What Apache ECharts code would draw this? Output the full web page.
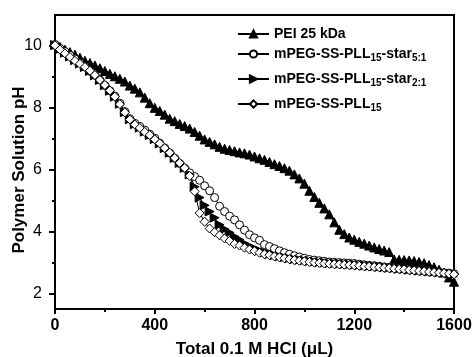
<!DOCTYPE html>
<html style="height: 100%">
<head>
    <meta charset="utf-8">
    <script src="https://cdn.jsdelivr.net/npm/echarts@6/dist/echarts.min.js"></script>
</head>
<body style="height: 100%; margin: 0">
    <div id="main" style="width:474px;height:357px;"></div>
    <script type="text/javascript">
    // volume of 0.1 M HCl added (uL)
    var volume = [0, 20, 40, 60, 80, 100, 120, 140, 160, 180, 200, 220, 240, 260, 280, 300, 320, 340, 360, 380,
        400, 420, 440, 460, 480, 500, 520, 540, 560, 580, 600, 620, 640, 660, 680, 700, 720, 740, 760, 780,
        800, 820, 840, 860, 880, 900, 920, 940, 960, 980, 1000, 1020, 1040, 1060, 1080, 1100, 1120, 1140, 1160, 1180,
        1200, 1220, 1240, 1260, 1280, 1300, 1320, 1340, 1360, 1380, 1400, 1420, 1440, 1460, 1480, 1500, 1520, 1540, 1560, 1580,
        1600];

    var pei = [10.05, 9.97, 9.88, 9.80, 9.72, 9.62, 9.52, 9.45, 9.37, 9.28, 9.19, 9.10, 9.02, 8.94, 8.85, 8.72, 8.62, 8.50, 8.33, 8.15,
        8.00, 7.90, 7.78, 7.65, 7.57, 7.48, 7.41, 7.33, 7.22, 7.10, 6.98, 6.90, 6.82, 6.74, 6.68, 6.64, 6.60, 6.56, 6.53, 6.49,
        6.43, 6.37, 6.32, 6.25, 6.18, 6.12, 6.05, 5.97, 5.85, 5.72, 5.55, 5.32, 5.12, 4.93, 4.75, 4.56, 4.30, 4.06, 3.92, 3.81,
        3.74, 3.67, 3.61, 3.55, 3.49, 3.44, 3.39, 3.34, 3.10, 3.09, 3.08, 3.07, 3.05, 3.02, 2.98, 2.92, 2.85, 2.77, 2.68, 2.52,
        2.38];

    var star51 = [10.05, 9.92, 9.82, 9.70, 9.58, 9.45, 9.32, 9.18, 9.05, 8.90, 8.72, 8.55, 8.38, 8.15, 7.88, 7.65, 7.50, 7.40, 7.28, 7.15,
        7.02, 6.86, 6.70, 6.54, 6.37, 6.20, 6.05, 5.90, 5.78, 5.66, 5.48, 5.32, 5.10, 4.82, 4.65, 4.50, 4.38, 4.22, 4.05, 3.90,
        3.80, 3.72, 3.58, 3.52, 3.45, 3.38, 3.32, 3.27, 3.22, 3.18, 3.14, 3.10, 3.08, 3.06, 3.04, 3.02, 3.01, 3.00, 2.99, 2.98,
        2.97, 2.95, 2.93, 2.91, 2.90, 2.88, 2.86, 2.85, 2.83, 2.81, 2.80, 2.78, 2.76, 2.75, 2.73, 2.72, 2.70, 2.69, 2.67, 2.66,
        2.64];

    var star21 = [10.03, 9.90, 9.78, 9.66, 9.54, 9.43, 9.32, 9.19, 9.05, 8.90, 8.73, 8.55, 8.36, 8.13, 7.86, 7.63, 7.47, 7.36, 7.23, 7.12,
        6.99, 6.85, 6.70, 6.55, 6.38, 6.22, 6.06, 5.85, 5.45, 5.10, 4.85, 4.65, 4.45, 4.22, 4.08, 3.97, 3.84, 3.74, 3.62, 3.53,
        3.46, 3.39, 3.33, 3.28, 3.24, 3.20, 3.17, 3.14, 3.11, 3.09, 3.07, 3.05, 3.03, 3.01, 3.00, 2.98, 2.97, 2.96, 2.95, 2.94,
        2.93, 2.92, 2.90, 2.89, 2.88, 2.86, 2.85, 2.83, 2.82, 2.80, 2.79, 2.77, 2.76, 2.74, 2.73, 2.71, 2.70, 2.68, 2.67, 2.65,
        2.63];

    var pll15 = [10.02, 9.88, 9.76, 9.64, 9.52, 9.42, 9.32, 9.20, 9.06, 8.90, 8.74, 8.56, 8.36, 8.12, 7.85, 7.62, 7.46, 7.35, 7.22, 7.12,
        6.98, 6.85, 6.70, 6.55, 6.38, 6.22, 6.06, 5.80, 5.30, 4.60, 4.32, 4.10, 3.98, 3.88, 3.78, 3.70, 3.60, 3.55, 3.48, 3.42,
        3.37, 3.32, 3.27, 3.24, 3.20, 3.17, 3.14, 3.11, 3.08, 3.06, 3.04, 3.02, 3.00, 2.99, 2.97, 2.96, 2.95, 2.94, 2.93, 2.92,
        2.91, 2.90, 2.88, 2.87, 2.86, 2.85, 2.83, 2.82, 2.80, 2.79, 2.78, 2.76, 2.75, 2.73, 2.72, 2.70, 2.69, 2.67, 2.66, 2.64,
        2.62];

    var seriesNames = ['PEI 25 kDa', 'mPEG-SS-PLL15-star5:1', 'mPEG-SS-PLL15-star2:1', 'mPEG-SS-PLL15'];
    var yMajorTicks = [2, 4, 6, 8, 10];
    var yMinorTicks = [3, 5, 7, 9];

    function pairs(ys) {
        return volume.map(function (v, i) { return [v, ys[i]]; });
    }

    var font = 'Arial, "Liberation Sans", sans-serif';
    var myChart = echarts.init(document.getElementById('main'));

    var lineSeries = function (name, ys, symbol, size, rotate, fill) {
        return {
            name: name,
            type: 'line',
            data: pairs(ys),
            symbol: symbol,
            symbolSize: size,
            symbolRotate: rotate,
            showAllSymbol: true,
            animation: false,
            lineStyle: { color: '#000', width: 1 },
            itemStyle: { color: fill, borderColor: '#000', borderWidth: 1 }
        };
    };

    // one legend block per entry so each row sits where it does in the figure
    var legendTops = [27, 47, 72, 97];
    var legends = seriesNames.map(function (name, i) {
        return {
            orient: 'vertical',
            left: 237,
            top: legendTops[i],
            padding: 0,
            itemWidth: 31,
            itemHeight: 9,
            data: [name],
            formatter: function (n) {
                return n.replace('PLL15', 'PLL{s|15}').replace(/star(\d:\d)/, 'star{s|$1}');
            },
            textStyle: {
                fontFamily: font, fontSize: 14, fontWeight: 'bold', color: '#000',
                rich: {
                    s: { fontFamily: font, fontSize: 10, fontWeight: 'bold', color: '#000', padding: [8, 0, 0, 0] }
                }
            }
        };
    });

    var option = {
        backgroundColor: '#fff',
        animation: false,
        grid: {
            left: 55, right: 20, top: 15, bottom: 48,
            outerBoundsMode: 'none',
            containLabel: false,
            show: true, borderColor: '#000', borderWidth: 2
        },
        legend: legends,
        xAxis: {
            type: 'value',
            min: 0, max: 1600, interval: 400,
            name: 'Total 0.1 M HCl (\u03bcL)',
            nameLocation: 'middle',
            nameGap: 32,
            nameMoveOverlap: false,
            nameTextStyle: { fontFamily: font, fontSize: 17, fontWeight: 'bold', color: '#000' },
            axisLine: { lineStyle: { color: '#000', width: 2 } },
            axisTick: { length: 5, lineStyle: { color: '#000', width: 2 } },
            minorTick: { show: true, splitNumber: 2, length: 3, lineStyle: { color: '#000', width: 2 } },
            splitLine: { show: false },
            axisLabel: {
                fontFamily: font, fontSize: 16, fontWeight: 'bold', color: '#000', margin: 9,
                formatter: function (v) { return String(v); }
            }
        },
        yAxis: [
            {
                type: 'value',
                min: 1.5, max: 11,
                name: 'Polymer Solution pH',
                nameLocation: 'middle',
                nameGap: 27,
                nameMoveOverlap: false,
                nameTextStyle: {
                    fontFamily: font, fontSize: 17, fontWeight: 'bold', color: '#000',
                    padding: [0, 16, 0, 0]
                },
                axisLine: { lineStyle: { color: '#000', width: 2 } },
                axisTick: { length: 6, customValues: yMajorTicks, lineStyle: { color: '#000', width: 2 } },
                splitLine: { show: false },
                axisLabel: { customValues: yMajorTicks, fontFamily: font, fontSize: 16, color: '#000', margin: 13 }
            },
            {
                type: 'value',
                min: 1.5, max: 11,
                position: 'left',
                axisLine: { show: false },
                axisTick: { length: 3, customValues: yMinorTicks, lineStyle: { color: '#000', width: 2 } },
                splitLine: { show: false },
                axisLabel: { show: false }
            }
        ],
        series: [
            lineSeries(seriesNames[0], pei, 'triangle', 9, 0, '#000'),
            lineSeries(seriesNames[1], star51, 'circle', 8, 0, '#fff'),
            lineSeries(seriesNames[2], star21, 'triangle', 9, -90, '#000'),
            lineSeries(seriesNames[3], pll15, 'diamond', 9, 0, '#fff')
        ]
    };

    myChart.setOption(option);
    </script>
</body>
</html>
